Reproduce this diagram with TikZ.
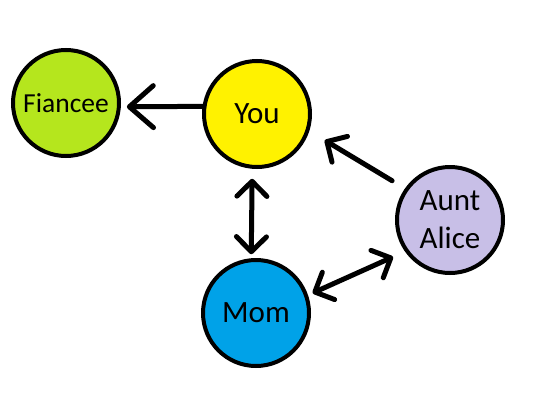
\documentclass[tikz,border=0pt]{standalone}
\usepackage{fontspec}
\setmainfont{Carlito}
\usetikzlibrary{arrows.meta}
\definecolor{cfiance}{HTML}{B5E61D}
\definecolor{cyou}{HTML}{FFF200}
\definecolor{cmom}{HTML}{00A2E8}
\definecolor{caunt}{HTML}{C8BFE7}
\tikzset{
  person/.style={circle, draw=black, line width=4pt, minimum size=106pt, inner sep=0pt, align=center, font=\fontsize{31}{38}\selectfont},
  arr/.style={line width=5pt, line cap=round, -{Straight Barb[length=15pt, width=30pt, round]}},
  biarr/.style={line width=5pt, line cap=round, {Straight Barb[length=15pt, width=30pt, round]}-{Straight Barb[length=15pt, width=30pt, round]}},
  bigarr/.style={line width=5pt, line cap=round, -{Straight Barb[length=24pt, width=42pt, round]}}
}
\begin{document}
\begin{tikzpicture}[x=1pt, y=-1pt]
\useasboundingbox[fill=white] (0,0) rectangle (540,407);
\node[person, fill=cfiance, font=\fontsize{27.5}{32}\selectfont] (Fiancee) at (66,103) {Fiancee};
\node[person, fill=cyou] (You) at (257,114) {You};
\node[person, fill=cmom] (Mom) at (256,313) {Mom};
\node[person, fill=caunt] (Aunt) at (450,220) {Aunt\\Alice};
\draw[bigarr, shorten >=6pt] (You.172) -- (Fiancee.-4);
\draw[arr, shorten <=15pt, shorten >=18pt] (Aunt.145) -- (You.-18);
\draw[biarr, shorten <=10pt, shorten >=4pt] (You.265) -- (Mom.95);
\draw[biarr, shorten <=5pt, shorten >=13pt] (Mom.19) -- (Aunt.215);
\end{tikzpicture}
\end{document}
